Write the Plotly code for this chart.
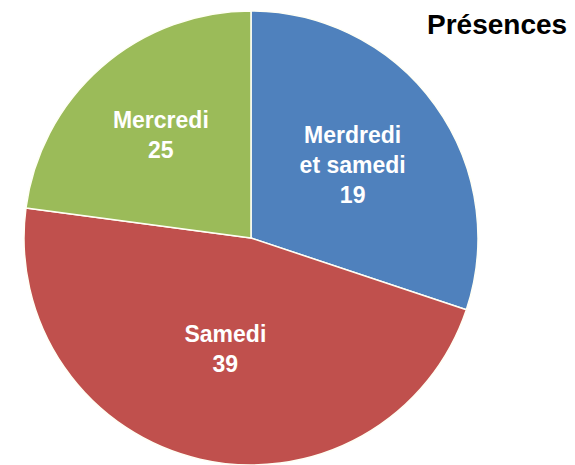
import plotly.graph_objects as go

# categories, clockwise from 12 o'clock
labels = ["Merdredi<br>et samedi", "Samedi", "Mercredi"]
# numbers printed on the slices
counts = [19, 39, 25]
# slice sizes as drawn in the picture (angles: ~30%, ~47%, ~23%)
slice_sizes = [25, 39, 19]
colors = ["#4F81BD", "#C0504D", "#9BBB59"]

# the page has an 8px body margin, so the figure is 8px smaller than the window
fig = go.Figure(go.Pie(
    labels=labels,
    values=slice_sizes,
    customdata=counts,
    texttemplate="<b>%{label}<br>%{customdata}</b>",
    textposition="inside",
    insidetextorientation="horizontal",
    textfont=dict(family="Liberation Sans, Arial, sans-serif", size=23, color="white"),
    marker=dict(colors=colors, line=dict(color="#FFFFF5", width=1.5)),
    sort=False,
    direction="clockwise",
    rotation=0,
    showlegend=False,
    domain=dict(x=[0.0282, 0.8289], y=[0.0, 0.9934]),
))

fig.update_layout(
    width=567,
    height=457,
    margin=dict(l=0, r=0, t=0, b=0),
    paper_bgcolor="white",
    plot_bgcolor="white",
    annotations=[dict(
        text="<b>Présences</b>",
        x=0.988, y=1.0, xref="paper", yref="paper",
        xanchor="right", yanchor="top", showarrow=False, borderpad=0,
        font=dict(family="Liberation Sans, Arial, sans-serif", size=28, color="black"),
    )],
)

fig.write_html("out.html")
